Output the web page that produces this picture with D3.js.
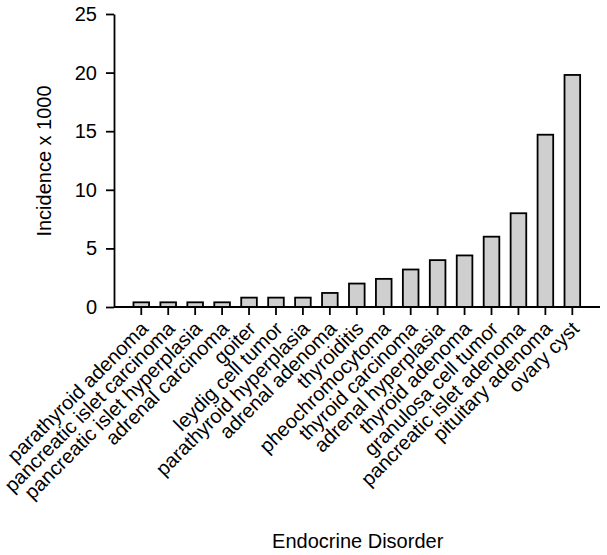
<!DOCTYPE html>
<html>
<head>
<meta charset="utf-8">
<script src="https://cdn.jsdelivr.net/npm/d3@7"></script>
<style>
  body { margin: 0; background: #fff; }
  svg { display: block; }
  text { font-family: "Liberation Sans", Arial, Helvetica, sans-serif; fill: #000; }
</style>
</head>
<body>
<svg id="chart" width="607" height="555"></svg>
<script>
const categories = [
  "parathyroid adenoma", "pancreatic islet carcinoma", "pancreatic islet hyperplasia",
  "adrenal carcinoma", "goiter", "leydig cell tumor", "parathyroid hyperplasia",
  "adrenal adenoma", "thyroiditis", "pheochromocytoma", "thyroid carcinoma",
  "adrenal hyperplasia", "thyroid adenoma", "granulosa cell tumor",
  "pancreatic islet adenoma", "pituitary adenoma", "ovary cyst"
];
const incidence = [0.4, 0.4, 0.4, 0.4, 0.8, 0.8, 0.8, 1.2, 2.0, 2.4, 3.2, 4.0, 4.4, 6.0, 8.0, 14.7, 19.8];
const yTicks = [0, 5, 10, 15, 20, 25];
const yTitle = "Incidence x 1000";
const xTitle = "Endocrine Disorder";

const svg = d3.select("#chart");
const axisX0 = 114, axisX1 = 600, y0 = 307, yTop = 14;

const x = d3.scaleBand()
  .domain(categories)
  .range([127.8, 585.8])
  .paddingInner(0.42)
  .paddingOuter(0.21);

const y = d3.scaleLinear().domain([0, 25]).range([y0, yTop]);

// bars
svg.append("g")
  .selectAll("rect")
  .data(categories.map((c, i) => ({ c, v: incidence[i] })))
  .join("rect")
  .attr("x", d => x(d.c))
  .attr("y", d => y(d.v))
  .attr("width", x.bandwidth())
  .attr("height", d => y(0) - y(d.v))
  .attr("fill", "#cfcfcf")
  .attr("stroke", "#000")
  .attr("stroke-width", 1.8);

// y axis
const yAxis = svg.append("g")
  .attr("transform", `translate(${axisX0},0)`)
  .call(d3.axisLeft(y).tickValues(yTicks).tickSize(8).tickSizeOuter(0).tickPadding(9));
yAxis.select(".domain").attr("stroke-width", 1.8);
yAxis.selectAll(".tick line").attr("stroke-width", 1.8);
yAxis.selectAll(".tick text").attr("font-size", 20).attr("font-family", null);

// x axis
const xAxis = svg.append("g")
  .attr("transform", `translate(0,${y0})`)
  .call(d3.axisBottom(x).tickSize(8).tickSizeOuter(0));
xAxis.select(".domain").remove();
xAxis.append("line")
  .attr("x1", axisX0).attr("x2", axisX1)
  .attr("y1", 0).attr("y2", 0)
  .attr("stroke", "#000").attr("stroke-width", 1.8);
xAxis.selectAll(".tick line").attr("stroke-width", 1.8);
xAxis.selectAll(".tick text")
  .attr("font-size", 20)
  .attr("font-family", null)
  .attr("x", null).attr("y", null).attr("dy", null)
  .attr("text-anchor", "end")
  .attr("transform", "translate(8,23) rotate(-45)");

// titles
svg.append("text")
  .attr("transform", "translate(51,161) rotate(-90)")
  .attr("text-anchor", "middle")
  .attr("font-size", 20)
  .text(yTitle);

svg.append("text")
  .attr("x", 357.7).attr("y", 548)
  .attr("text-anchor", "middle")
  .attr("font-size", 20)
  .text(xTitle);
</script>
</body>
</html>
